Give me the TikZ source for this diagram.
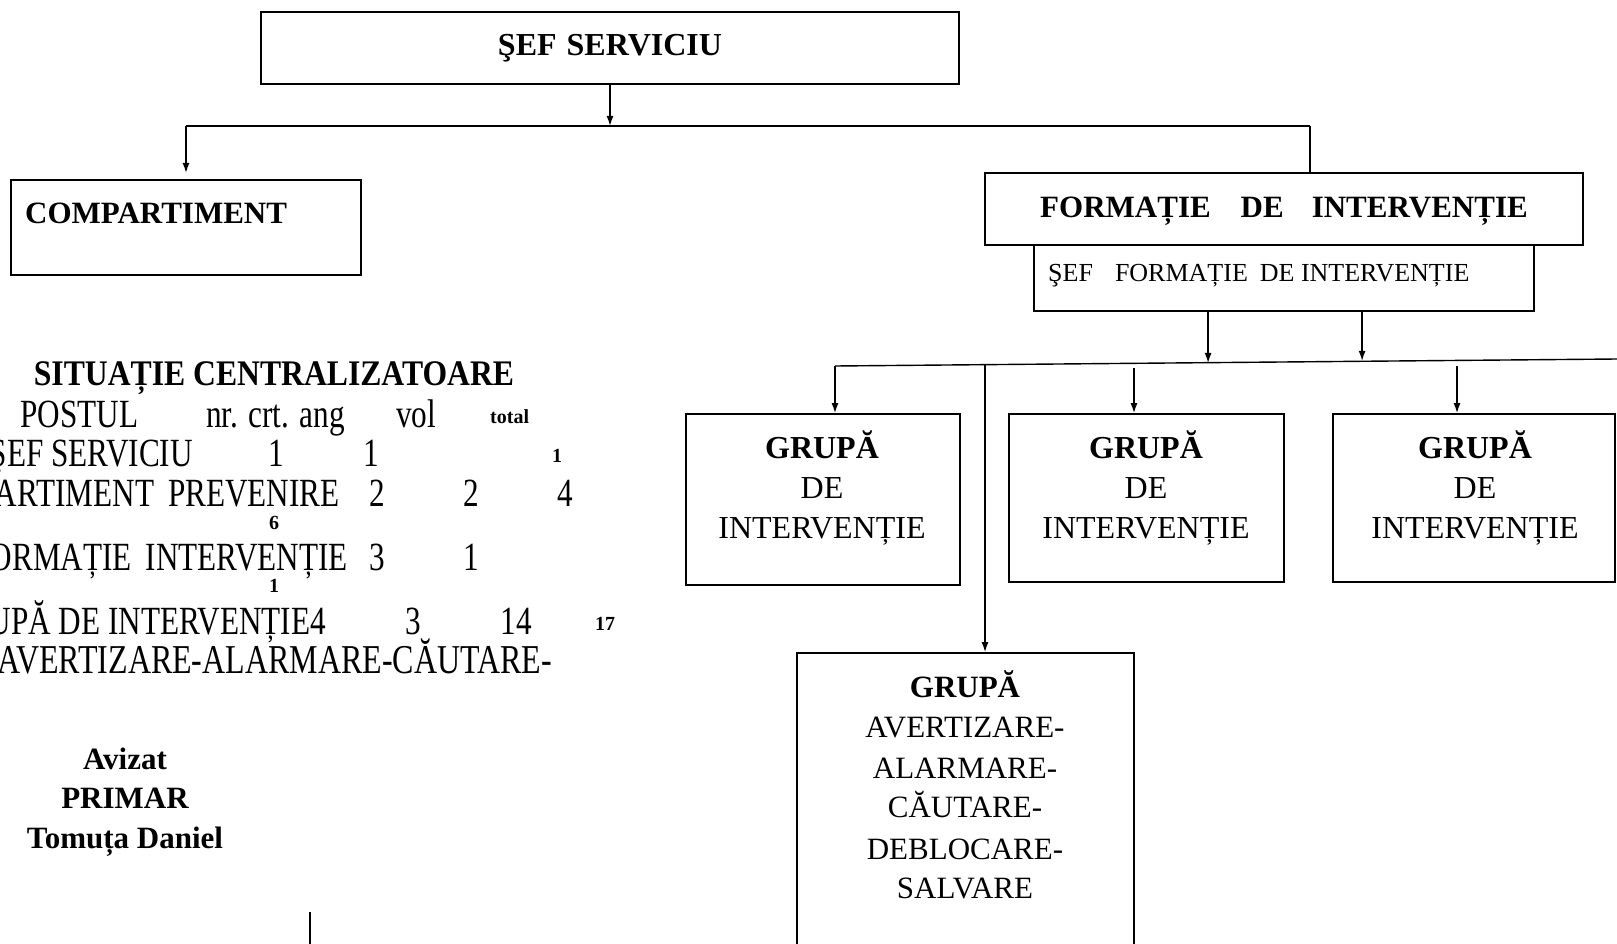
\documentclass[tikz,border=0pt]{standalone}
\usepackage{fontspec}
\setmainfont{Liberation Serif}
\newfontfamily\condfont[FakeStretch=0.78]{Liberation Serif}
\newfontfamily\titlefont[FakeStretch=0.88]{Liberation Serif}
\usetikzlibrary{arrows.meta}
\begin{document}
\begin{tikzpicture}[x=1pt,y=-1pt,
  box/.style={draw, line width=1.8pt, inner sep=0pt},
  arr/.style={line width=1.4pt, -{Latex[length=10pt,width=7pt]}},
  ln/.style={line width=1.4pt},
  bt/.style={font=\fontsize{32}{32}\selectfont\bfseries, inner sep=0pt, anchor=base},
  nt/.style={font=\fontsize{32}{32}\selectfont, inner sep=0pt, anchor=base},
  tb/.style={font=\condfont\fontsize{40}{40}\selectfont, inner sep=0pt},
  sm/.style={font=\fontsize{20}{20}\selectfont\bfseries, inner sep=0pt, anchor=base}
]
\fill[white] (0,0) rectangle (1617,944);
\clip (0,0) rectangle (1617,944);

% boxes
\node[box, minimum width=698pt, minimum height=72pt] (sef) at (610,48) {};
\node[box, minimum width=350pt, minimum height=95pt] (comp) at (186,227.5) {};
\node[box, minimum width=598pt, minimum height=72pt] (form) at (1284,209) {};
\node[box, minimum width=500pt, minimum height=66pt] (sefform) at (1284,278) {};
\node[box, minimum width=274pt, minimum height=171pt] (g1) at (823,499.5) {};
\node[box, minimum width=275pt, minimum height=168pt] (g2) at (1146.5,498) {};
\node[box, minimum width=282pt, minimum height=168pt] (g3) at (1474,498) {};
\node[box, minimum width=337pt, minimum height=320pt] (gav) at (965.5,813) {};

% box texts
\node[bt] (tsef) at (610,56) {ŞEF\hspace{10pt}SERVICIU};
\node[bt, font=\fontsize{31}{31}\selectfont\bfseries, anchor=base west] (tcomp) at (25,224) {COMPARTIMENT};
\node[bt, font=\fontsize{31}{31}\selectfont\bfseries] (tform) at (1284,218) {FORMAȚIE\hspace{30pt}DE\hspace{28pt}INTERVENȚIE};
\node[nt, font=\fontsize{26}{26}\selectfont, anchor=base west] (tsefform) at (1048,281) {ŞEF\hspace{22pt}FORMAȚIE\hspace{12pt}DE INTERVENȚIE};

\foreach \n/\x in {1/822,2/1146,3/1475}{
  \node[bt] (g\n a) at (\x,458) {GRUPĂ};
  \node[nt] (g\n b) at (\x,498) {DE};
  \node[nt] (g\n c) at (\x,538) {INTERVENȚIE};
}

\node[bt, font=\fontsize{31}{31}\selectfont\bfseries] (gv1) at (965,697) {GRUPĂ};
\node[nt, font=\fontsize{31}{31}\selectfont] (gv2) at (965,737) {AVERTIZARE-};
\node[nt, font=\fontsize{31}{31}\selectfont] (gv3) at (965,778) {ALARMARE-};
\node[nt, font=\fontsize{31}{31}\selectfont] (gv4) at (965,817) {CĂUTARE-};
\node[nt, font=\fontsize{31}{31}\selectfont] (gv5) at (965,859) {DEBLOCARE-};
\node[nt, font=\fontsize{31}{31}\selectfont] (gv6) at (965,898) {SALVARE};

% connectors top level
\coordinate (hl) at (186,126);
\coordinate (hr) at (1310,126);
\coordinate (ct) at (186,173);
\draw[ln] (hl) -- (hr);
\draw[arr] (sef.south) -- (sef.south |- hl);
\draw[arr] (hl) -- (ct);
\draw[ln] (hr) -- (hr |- form.north);

% second level
\coordinate (ml) at (835,366);
\coordinate (mr) at (1617,359);
\draw[ln] (ml) -- (mr);
\draw[arr] ([xshift=175pt]sefform.south west) -- ++(0,51);
\draw[arr] ([xshift=329pt]sefform.south west) -- ++(0,49);
\draw[arr] (ml) -- (ml |- g1.north);
\coordinate (m2) at (1134,368);
\coordinate (m3) at (1457,366);
\coordinate (m4) at (985,365);
\draw[arr] (m2) -- (m2 |- g2.north);
\draw[arr] (m3) -- (m3 |- g3.north);
\draw[arr] (m4) -- (m4 |- gav.north);

% left summary
\node[inner sep=0pt, anchor=base, font=\titlefont\fontsize{36}{36}\selectfont\bfseries] (sit) at (274,385) {SITUAȚIE CENTRALIZATOARE};
\node[tb, anchor=base west] (p1) at (20,427) {POSTUL};
\node[tb, anchor=base west] (p2) at (206,427) {nr. crt. ang};
\node[tb, anchor=base west] (p3) at (396,427) {vol};
\node[sm, anchor=base west] (p4) at (490,423) {total};

\node[tb, anchor=base east] (r1) at (193,466) {ŞEF SERVICIU};
\node[tb, anchor=base] (r1a) at (276,466) {1};
\node[tb, anchor=base] (r1b) at (371,466) {1};
\node[sm] (r1c) at (557,462) {1};

\node[tb, anchor=base east] (r2) at (340,506) {COMPARTIMENT\hspace{14pt}PREVENIRE};
\node[tb, anchor=base] (r2a) at (377,506) {2};
\node[tb, anchor=base] (r2b) at (471,506) {2};
\node[tb, anchor=base] (r2c) at (565,506) {4};
\node[sm] (r2d) at (274,529) {6};

\node[tb, anchor=base east] (r3) at (348,570) {FORMAȚIE\hspace{14pt}INTERVENȚIE};
\node[tb, anchor=base] (r3a) at (377,570) {3};
\node[tb, anchor=base] (r3b) at (471,570) {1};
\node[sm] (r3c) at (274,592) {1};

\node[tb, anchor=base east] (r4) at (326,634) {GRUPĂ DE INTERVENȚIE4};
\node[tb, anchor=base] (r4a) at (413,634) {3};
\node[tb, anchor=base] (r4b) at (516,634) {14};
\node[sm] (r4c) at (605,630) {17};

\node[tb, anchor=base east, font=\condfont\fontsize{41}{41}\selectfont] (r5) at (552,673) {AVERTIZARE-ALARMARE-CĂUTARE-};

% signature
\node[bt, font=\fontsize{31}{31}\selectfont\bfseries] (av1) at (125,769) {Avizat};
\node[bt, font=\fontsize{31}{31}\selectfont\bfseries] (av2) at (125,808) {PRIMAR};
\node[bt, font=\fontsize{31}{31}\selectfont\bfseries] (av3) at (125,848) {Tomuța Daniel};

% small stub line at bottom
\coordinate (s1) at (310,912);
\coordinate (s2) at (310,950);
\draw[ln] (s1) -- (s2);
\end{tikzpicture}
\end{document}
